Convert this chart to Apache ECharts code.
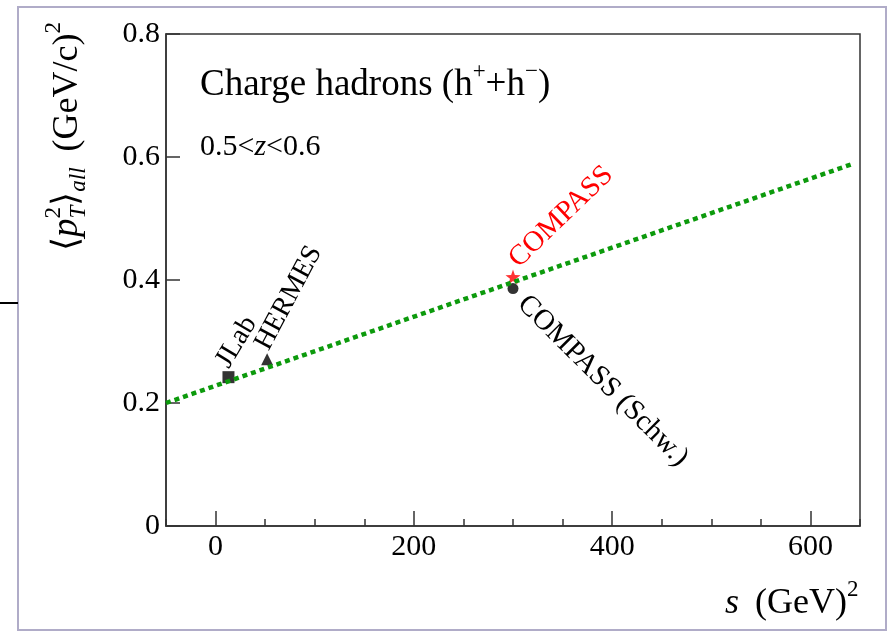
<!DOCTYPE html>
<html>
<head>
<meta charset="utf-8">
<script src="https://cdn.jsdelivr.net/npm/echarts@6/dist/echarts.min.js"></script>
<style>
  html, body { margin: 0; padding: 0; background: #ffffff; }
  #chart { width: 890px; height: 632px; }
</style>
</head>
<body>
<div id="chart"></div>
<script>
// Axis ranges and tick labels
const sRange = [-50, 650];
const xTickLabels = [0, 200, 400, 600];
const yRange = [0, 0.8];
const yTickStep = 0.2;

// Linear fit across energies (end points)
const fitS = [-50, 643];
const fitPt2 = [0.2, 0.589];

// Measurements: <pT^2>_all vs s
const experiments = ['JLab', 'HERMES', 'COMPASS', 'COMPASS (Schw.)'];
const expS = [13, 52, 300, 300];
const expPt2 = [0.242, 0.271, 0.405, 0.386];

const SERIF = '"Liberation Serif", "Times New Roman", serif';
const AXIS_COLOR = '#333333';

const chart = echarts.init(document.getElementById('chart'), null, { renderer: 'canvas' });

const starPath = 'path://M0,-10 L2.35,-3.24 L9.51,-3.09 L3.8,1.24 L5.88,8.09 L0,4 L-5.88,8.09 L-3.8,1.24 L-9.51,-3.09 L-2.35,-3.24 Z';

const markerStyles = [
  { symbol: 'rect', size: 12, color: '#000000' },
  { symbol: 'triangle', size: 12, color: '#000000' },
  { symbol: starPath, size: 15, color: '#ff0000' },
  { symbol: 'circle', size: 11, color: '#000000' }
];

const series = experiments.map((name, i) => ({
  name: name,
  type: 'scatter',
  data: [[expS[i], expPt2[i]]],
  symbol: markerStyles[i].symbol,
  symbolSize: markerStyles[i].size,
  itemStyle: { color: markerStyles[i].color },
  z: 3,
  silent: true
}));

series.push({
  name: 'fit',
  type: 'line',
  data: fitS.map((s, i) => [s, fitPt2[i]]),
  symbol: 'none',
  lineStyle: { color: '#0c9a0c', width: 4.5, type: [5, 4], cap: 'butt' },
  z: 5,
  silent: true
});

chart.setOption({
  animation: false,
  grid: {
    left: 166, right: 30, top: 34, bottom: 106,
    show: true, borderColor: AXIS_COLOR, borderWidth: 1.5, backgroundColor: 'transparent'
  },
  xAxis: [
    {
      type: 'value', min: sRange[0], max: sRange[1], position: 'bottom',
      axisLine: { show: true, onZero: false, lineStyle: { color: AXIS_COLOR, width: 1.5 } },
      axisTick: { show: true, inside: true, length: 15, customValues: xTickLabels, lineStyle: { color: AXIS_COLOR, width: 1.5 } },
      axisLabel: { customValues: xTickLabels, fontSize: 30, fontFamily: SERIF, color: '#000', margin: 6 },
      splitLine: { show: false }
    },
    {
      type: 'value', min: sRange[0], max: sRange[1], interval: 50, position: 'bottom', offset: 0,
      axisLine: { show: false, onZero: false },
      axisTick: { show: true, inside: true, length: 7, lineStyle: { color: AXIS_COLOR, width: 1.5 } },
      axisLabel: { show: false },
      splitLine: { show: false }
    }
  ],
  yAxis: {
    type: 'value', min: yRange[0], max: yRange[1], interval: yTickStep,
    axisLine: { show: true, onZero: false, lineStyle: { color: AXIS_COLOR, width: 1.5 } },
    axisTick: { show: true, inside: true, length: 14, lineStyle: { color: AXIS_COLOR, width: 1.5 } },
    axisLabel: { fontSize: 30, fontFamily: SERIF, color: '#000', margin: 6,
      formatter: v => (v === 0 ? '0' : v.toFixed(1)) },
    splitLine: { show: false }
  },
  series: series
});

// --- text with super/subscripts laid out along a baseline ---
const measureCtx = document.createElement('canvas').getContext('2d');
function fontOf(seg) {
  return (seg.italic ? 'italic ' : '') + seg.size + 'px ' + SERIF;
}
function textLine(x, y, rotationDeg, segs, color) {
  let cx = 0, lastStart = 0;
  const children = [];
  segs.forEach(seg => {
    const start = seg.stack ? lastStart : cx + (seg.dx || 0);
    measureCtx.font = fontOf(seg);
    const w = measureCtx.measureText(seg.text).width;
    children.push({
      type: 'text', x: start, y: -(seg.rise || 0) - 0.33 * seg.size, silent: true,
      style: {
        text: seg.text, fontSize: seg.size, fontFamily: SERIF,
        fontStyle: seg.italic ? 'italic' : 'normal',
        fill: seg.color || color, align: 'left', verticalAlign: 'middle'
      }
    });
    if (seg.stack) {
      cx = Math.max(cx, start + w);
    } else {
      lastStart = start;
      cx = start + w;
    }
  });
  return { type: 'group', x: x, y: y, rotation: rotationDeg * Math.PI / 180, children: children };
}

const graphics = [];

// page frame
graphics.push({ type: 'rect', silent: true, shape: { x: 18, y: 7, width: 868, height: 623 },
  style: { fill: 'none', stroke: '#b0acc8', lineWidth: 2 }, z: -1 });
graphics.push({ type: 'line', silent: true, shape: { x1: 0, y1: 303, x2: 18, y2: 303 },
  style: { stroke: '#000', lineWidth: 2 } });

// y-axis title
graphics.push(textLine(79, 251, 90, [
  { text: '\u27E8', size: 36 },
  { text: 'p', size: 37, italic: true },
  { text: '2', size: 23, rise: 17 },
  { text: 'T', size: 23, italic: true, rise: -8, stack: true },
  { text: '\u27E9', size: 36 },
  { text: 'all', size: 23, italic: true, rise: -8 },
  { text: '(GeV/c)', size: 36, dx: 16 },
  { text: '2', size: 23, rise: 17 }
], '#000'));

// x-axis title
graphics.push(textLine(725, 615, 0, [
  { text: 's', size: 36, italic: true },
  { text: '(GeV)', size: 36, dx: 16 },
  { text: '2', size: 23, rise: 17 }
], '#000'));

// plot caption
graphics.push(textLine(200, 97, 0, [
  { text: 'Charge hadrons (h', size: 37 },
  { text: '+', size: 23, rise: 17 },
  { text: '+h', size: 37 },
  { text: '\u2212', size: 23, rise: 17 },
  { text: ')', size: 37 }
], '#000'));
graphics.push(textLine(200, 157, 0, [
  { text: '0.5<', size: 30 },
  { text: 'z', size: 30, italic: true },
  { text: '<0.6', size: 30 }
], '#000'));

// experiment tags next to their markers
const tagStyles = [
  { rot: 59, dx: 2, dy: -7, size: 28, color: '#000' },
  { rot: 62, dx: 3, dy: -7, size: 28, color: '#000' },
  { rot: 44, dx: 7, dy: -7, size: 29, color: '#ff0000' },
  { rot: -45, dx: 2, dy: 18, size: 29, color: '#000' }
];
experiments.forEach((name, i) => {
  const p = chart.convertToPixel({ gridIndex: 0 }, [expS[i], expPt2[i]]);
  const t = tagStyles[i];
  graphics.push(textLine(p[0] + t.dx, p[1] + t.dy, t.rot, [{ text: name, size: t.size }], t.color));
});

chart.setOption({ graphic: graphics });
</script>
</body>
</html>
